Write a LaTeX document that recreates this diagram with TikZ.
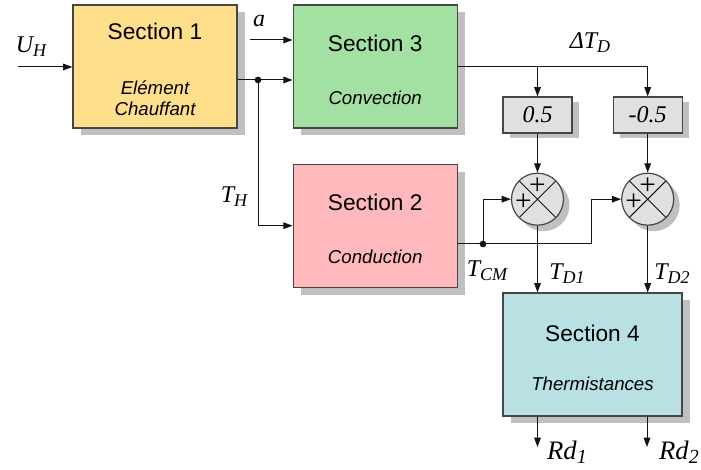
\documentclass[tikz,border=0pt]{standalone}
\usepackage{fontspec}
\setmainfont{Liberation Sans}
\newfontfamily\timesfam{Liberation Serif}
\usepackage{tikz}
\usetikzlibrary{arrows.meta, positioning, shadows, calc}
\definecolor{mydark}{RGB}{20,20,20}
\definecolor{myborder}{RGB}{70,70,70}
\definecolor{shadowgray}{RGB}{192,192,192}
\definecolor{hdrorange}{RGB}{255,222,140}
\definecolor{hdrgreen}{RGB}{163,225,163}
\definecolor{hdrpink}{RGB}{255,185,187}
\definecolor{hdrcyan}{RGB}{185,225,227}
\definecolor{hdrgray}{RGB}{224,224,224}
\newcommand{\lblfont}{\fontsize{18}{20}\selectfont\timesfam\itshape}
\newcommand{\subfnt}{\fontsize{14}{16}\selectfont\itshape}
\newcommand{\varlbl}[3][13.5]{#2\raisebox{-0.35ex}{\fontsize{#1}{14}\selectfont #3}}
\newcommand{\topstrut}{\rule{0pt}{17pt}}
\tikzset{
  secblock/.style={rectangle, draw=myborder, minimum width=123pt,
    minimum height=92.25pt, align=center, line width=0.9pt,
    font=\fontsize{17}{20}\selectfont,
    drop shadow={shadow xshift=6pt, shadow yshift=-5.5pt,
      fill=shadowgray, opacity=1}},
  gainbox/.style={rectangle, draw=myborder, fill=hdrgray, minimum width=51.75pt,
    minimum height=27pt, font=\lblfont, line width=0.9pt,
    drop shadow={shadow xshift=5pt, shadow yshift=-4pt,
      fill=shadowgray, opacity=1}},
  sumjunc/.style={circle, draw=myborder, fill=hdrgray, minimum size=39pt,
    inner sep=0pt, line width=0.9pt,
    drop shadow={shadow xshift=4.5pt, shadow yshift=-4.5pt,
      fill=shadowgray, opacity=1},
    path picture={
      \draw[mydark, line width=0.7pt]
        (path picture bounding box.north west) -- (path picture bounding box.south east)
        (path picture bounding box.north east) -- (path picture bounding box.south west);
    }},
  plussign/.style={font=\fontsize{22}{22}\selectfont\timesfam, inner sep=0pt},
  arrow/.style={-{Triangle[length=7pt,width=5pt]}, line width=0.75pt, color=mydark},
  line/.style={line width=0.75pt, color=mydark},
  dot/.style={circle, fill=mydark, inner sep=0pt, minimum size=5pt},
  lbl/.style={font=\lblfont, inner sep=0pt}
}
\begin{document}
\begin{tikzpicture}[x=0.75pt, y=-0.75pt]
  \useasboundingbox (0,0) rectangle (701,470);
  % blocks
  \node[secblock, fill=hdrorange] (s1) at (155,66.5)
    {\topstrut Section 1\\[21pt]{\subfnt El\'ement}\\[-4.25pt]{\subfnt Chauffant}};
  \node[secblock, fill=hdrgreen, right=41.25pt of s1] (s3)
    {\topstrut Section 3\\[20pt]{\subfnt Convection}};
  \node[secblock, fill=hdrpink, below=26.25pt of s3] (s2)
    {\topstrut Section 2\\[20pt]{\subfnt Conduction}};
  \node[secblock, fill=hdrcyan, minimum width=134.25pt] (s4) at (592.5,354.5)
    {\topstrut Section 4\\[17pt]{\subfnt Thermistances}};
  \node[gainbox] (g1) at (537.5,115) {0.5};
  \node[gainbox, right=30pt of g1] (g2) {-0.5};
  \node[sumjunc, below=29.25pt of g1] (sum1) {};
  \node[sumjunc, below=29.25pt of g2] (sum2) {};
  \foreach \s in {sum1,sum2} {
    \node[plussign] (\s-up) at ($(\s.center)+(0pt,9.5pt)$) {+};
    \node[plussign] (\s-lf) at ($(\s.center)+(-10.5pt,-2pt)$) {+};
  }
  % free ends and junctions
  \coordinate (uin) at (18,67);
  \coordinate (ain) at (250,40);
  \coordinate (j1) at (258,80);
  \coordinate (j2) at (483,244);
  \coordinate (k2) at (591,244);
  \coordinate (rd1) at (537.5,447);
  \coordinate (rd2) at (647,447);
  % connectors
  \draw[arrow] (uin) -- (uin -| s1.west);
  \draw[arrow] (ain) -- (ain -| s3.west);
  \draw[arrow] (j1 -| s1.east) -- (j1 -| s3.west);
  \draw[arrow] (j1) |- (s2.west);
  \node[dot] (d1) at (j1) {};
  \draw[line] (s3.east) -- (s3.east -| g2.north);
  \draw[arrow] (s3.east -| g1.north) -- (g1.north);
  \draw[arrow] (s3.east -| g2.north) -- (g2.north);
  \draw[arrow] (g1) -- (sum1);
  \draw[arrow] (g2) -- (sum2);
  \draw[line] (j2 -| s2.east) -- (k2);
  \draw[arrow] (j2) |- (sum1.west);
  \draw[arrow] (k2) |- (sum2.west);
  \node[dot] (d2) at (j2) {};
  \draw[arrow] (sum1) -- (sum1 |- s4.north);
  \draw[arrow] (sum2) -- (sum2 |- s4.north);
  \draw[arrow] (rd1 |- s4.south) -- (rd1);
  \draw[arrow] (rd2 |- s4.south) -- (rd2);
  % labels
  \node[lbl] (lu) at (31,47) {\varlbl{U}{H}};
  \node[lbl] (la) at (259,21) {a};
  \node[lbl] (lth) at (234,197) {\varlbl{T}{H}};
  \node[lbl] (ldt) at (590,43) {\varlbl{ΔT}{D}};
  \node[lbl] (ltcm) at (487,271) {\varlbl{T}{CM}};
  \node[lbl] (ltd1) at (567,274) {\varlbl{T}{D1}};
  \node[lbl] (ltd2) at (672,274) {\varlbl{T}{D2}};
  \node[lbl, font=\fontsize{20}{22}\selectfont\timesfam\itshape] (lrd1) at (567,452) {\varlbl[15]{Rd}{1}};
  \node[lbl, font=\fontsize{20}{22}\selectfont\timesfam\itshape] (lrd2) at (679,452) {\varlbl[15]{Rd}{2}};
\end{tikzpicture}
\end{document}
